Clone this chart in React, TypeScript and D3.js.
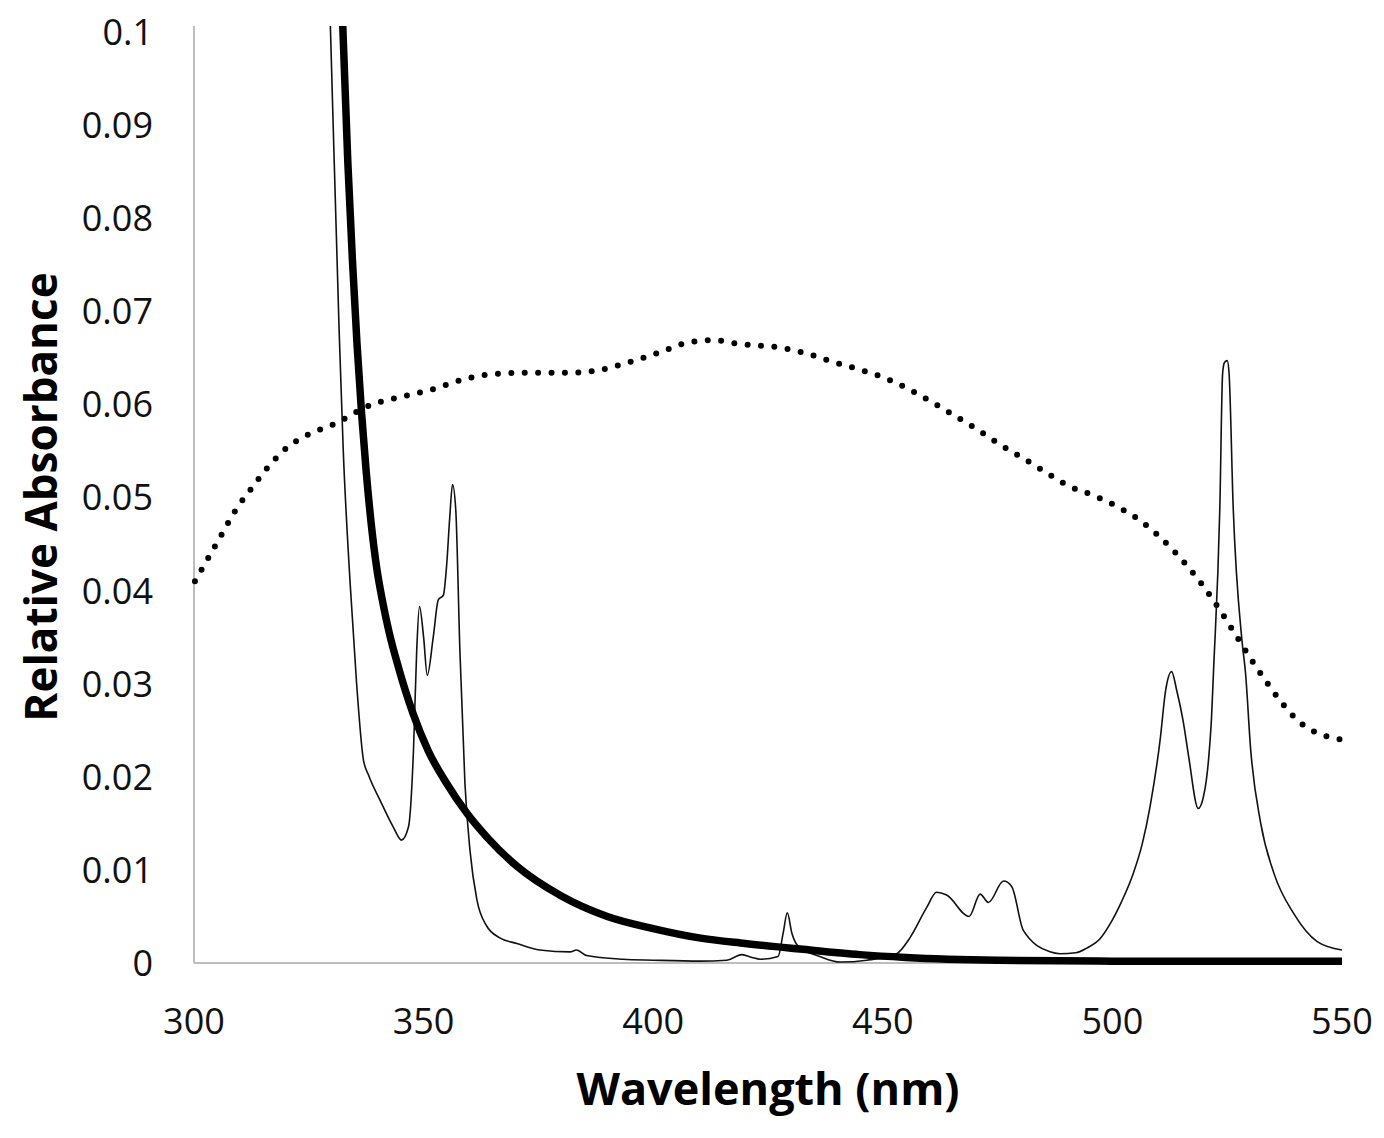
import * as d3 from 'd3';
import React from 'react';

// wavelength (nm) / relative absorbance
const thinWl = [
  329.0, 329.7, 331.6, 332.5, 334.0, 335.4, 336.9, 338.0, 340.5, 343.4, 345.2, 346.7, 347.8, 348.5,
  349.1, 350.0, 350.8, 352.1, 353.2, 354.3, 355.0, 355.7, 356.3, 357.0, 357.9, 359.0, 360.1, 361.6,
  363.7, 366.6, 370.3, 375.3, 381.9, 383.3, 385.5, 393.4, 400.0, 410.2, 416.0, 419.3, 421.5, 423.3,
  427.2, 428.3, 429.2, 430.2, 431.6, 436.3, 440.7, 446.5, 453.0, 455.9, 459.6, 461.7, 463.9, 468.8,
  471.2, 473.0, 476.3, 478.1, 480.6, 486.4, 488.6, 492.0, 494.4, 497.3, 499.5, 502.0, 504.6, 506.5,
  508.2, 510.4, 511.6, 512.9, 514.0, 515.4, 516.6, 518.7, 519.8, 520.5, 521.0, 521.6, 522.0, 523.4,
  524.0, 524.4, 525.0, 525.4, 526.3, 528.2, 529.0, 530.1, 532.3, 535.2, 539.5, 544.6, 550.0,
];
const thinAbs = [
  0.112, 0.1006, 0.068, 0.0551, 0.0408, 0.0301, 0.0218, 0.0202, 0.0175, 0.0146, 0.0132, 0.0146, 0.0229, 0.0336,
  0.0383, 0.035, 0.0309, 0.035, 0.039, 0.0395, 0.0426, 0.0479, 0.0514, 0.0487, 0.0336, 0.0193, 0.0121, 0.0068,
  0.004, 0.0027, 0.0021, 0.0014, 0.0012, 0.0014, 0.0008, 0.0004, 0.0003, 0.0002, 0.0003, 0.0009, 0.0006, 0.0004,
  0.0007, 0.0032, 0.0054, 0.0032, 0.0018, 0.0007, 0.0001, 0.0003, 0.001, 0.0027, 0.006, 0.0076, 0.0073, 0.005,
  0.0074, 0.0065, 0.0088, 0.0082, 0.0035, 0.0012, 0.001, 0.0011, 0.0016, 0.0026, 0.0042, 0.0066, 0.0097, 0.0128,
  0.0168, 0.024, 0.0293, 0.0313, 0.0293, 0.026, 0.0222, 0.0166, 0.0178, 0.0198, 0.0222, 0.0265, 0.0311, 0.049,
  0.0633, 0.0645, 0.0647, 0.0634, 0.049, 0.0347, 0.0311, 0.023, 0.015, 0.0096, 0.0053, 0.0023, 0.0014,
];

const thickWl = [
  331.5, 332.4, 333.5, 334.5, 335.5, 336.5, 337.5, 338.5, 339.8, 341.0, 342.5, 344.5, 347.7, 351.0,
  355.0, 359.4, 364.0, 370.3, 380.0, 390.0, 400.0, 410.0, 420.0, 432.0, 445.0, 455.0, 475.0, 500.0, 550.0,
];
const thickAbs = [
  0.114, 0.1006, 0.086, 0.0755, 0.0665, 0.059, 0.0528, 0.0476, 0.0424, 0.039, 0.0355, 0.0318, 0.0268, 0.0228,
  0.0193, 0.0161, 0.0134, 0.0104, 0.0072, 0.005, 0.0037, 0.0027, 0.0021, 0.0015, 0.0009, 0.0006, 0.0003, 0.0002, 0.0002,
];

const dottedWl = [
  300.2, 303.1, 306.0, 309.0, 312.4, 316.0, 320.1, 325.0, 330.6, 338.3, 346.8, 352.5, 358.1, 364.0,
  372.7, 381.5, 387.3, 393.1, 401.5, 407.1, 412.9, 418.7, 427.5, 433.2, 438.9, 444.5, 450.1, 455.4,
  460.5, 465.6, 470.6, 475.5, 480.6, 485.5, 490.6, 496.0, 501.5, 506.4, 512.9, 516.9, 520.5, 523.8,
  526.9, 530.1, 533.4, 536.8, 540.7, 543.4, 548.8, 550.0,
];
const dottedAbs = [
  0.041, 0.0435, 0.046, 0.0486, 0.0509, 0.0532, 0.0553, 0.0568, 0.0579, 0.0599, 0.061, 0.0617, 0.0626, 0.0632,
  0.0634, 0.0634, 0.0636, 0.0643, 0.0656, 0.0666, 0.0669, 0.0665, 0.0661, 0.0655, 0.0646, 0.0638, 0.0629, 0.0617,
  0.0603, 0.0588, 0.0573, 0.0557, 0.0542, 0.0527, 0.0512, 0.0502, 0.0489, 0.0474, 0.0445, 0.0423, 0.04, 0.0376,
  0.0352, 0.0327, 0.0303, 0.028, 0.0259, 0.025, 0.0241, 0.024,
];

const xTicks = [300, 350, 400, 450, 500, 550];
const yTicks = [0, 0.01, 0.02, 0.03, 0.04, 0.05, 0.06, 0.07, 0.08, 0.09, 0.1];

const W = 1384;
const H = 1138;
const font = '"Open Sans", sans-serif';

export default function App() {
  const x = d3.scaleLinear().domain([300, 550]).range([194, 1342]);
  const y = d3.scaleLinear().domain([0, 0.1]).range([963, 32]);
  const top = 26;

  const line = d3
    .line<[number, number]>()
    .x(d => x(d[0]))
    .y(d => y(d[1]))
    .curve(d3.curveMonotoneX);

  const zip = (a: number[], b: number[]) => a.map((w, i) => [w, b[i]] as [number, number]);

  return (
    <svg
      width={W}
      height={H}
      style={{ position: 'absolute', left: 0, top: 0, background: '#fff' }}
    >
      <defs>
        <clipPath id="plot">
          <rect x={0} y={top} width={W} height={1000 - top} />
        </clipPath>
      </defs>

      {/* axes */}
      <line x1={x(300)} x2={x(300)} y1={top} y2={y(0)} stroke="#bdbdbd" strokeWidth={2} />
      <line x1={x(300)} x2={x(550)} y1={y(0)} y2={y(0)} stroke="#bdbdbd" strokeWidth={2} />

      {yTicks.map(t => (
        <text
          key={t}
          x={153}
          y={y(t)}
          dy="0.36em"
          textAnchor="end"
          fontFamily={font}
          fontSize={36}
          fill="#111"
        >
          {d3.format('~g')(t)}
        </text>
      ))}
      {xTicks.map(t => (
        <text
          key={t}
          x={x(t)}
          y={1034}
          textAnchor="middle"
          fontFamily={font}
          fontSize={36}
          fill="#111"
        >
          {t}
        </text>
      ))}

      <g clipPath="url(#plot)" fill="none">
        <path
          d={line(zip(dottedWl, dottedAbs)) ?? ''}
          stroke="#000"
          strokeWidth={6}
          strokeLinecap="round"
          strokeDasharray="0 13.4"
        />
        <path d={line(zip(thinWl, thinAbs)) ?? ''} stroke="#111" strokeWidth={1.6} />
        <path d={line(zip(thickWl, thickAbs)) ?? ''} stroke="#000" strokeWidth={7.5} />
      </g>

      <text
        x={768}
        y={1105}
        textAnchor="middle"
        fontFamily={font}
        fontWeight="bold"
        fontSize={45}
        fill="#000"
      >
        Wavelength (nm)
      </text>
      <text
        transform={`translate(57,497) rotate(-90)`}
        textAnchor="middle"
        fontFamily={font}
        fontWeight="bold"
        fontSize={44}
        fill="#000"
      >
        Relative Absorbance
      </text>
    </svg>
  );
}
